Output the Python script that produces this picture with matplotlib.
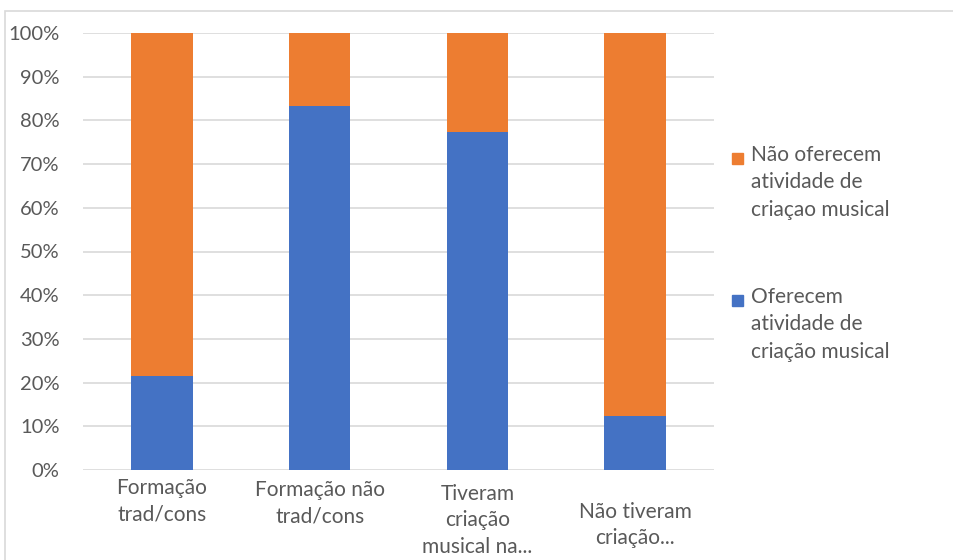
import matplotlib.pyplot as plt
import matplotlib.transforms as mtransforms
from matplotlib.patches import Rectangle
from matplotlib.ticker import MultipleLocator, PercentFormatter

categorias = [["Formação", "trad/cons"],
              ["Formação não", "trad/cons"],
              ["Tiveram", "criação", "musical na..."],
              ["Não tiveram", "criação..."]]
oferecem = [21.5, 83.3, 77.3, 12.4]
nao_oferecem = [100 - v for v in oferecem]

series_legenda = [["Não oferecem", "atividade de", "criaçao musical"],
                  ["Oferecem", "atividade de", "criação musical"]]

azul = "#4472C4"
laranja = "#ED7D31"
cinza = "#595959"
W, H = 954, 560

plt.rcParams["font.family"] = ["Lato", "DejaVu Sans"]

fig = plt.figure(figsize=(W / 100, H / 100), dpi=100)
# moldura do gráfico
fig.patches.append(Rectangle((5 / W, -0.05), 1.0, 1 - 11 / H + 0.05,
                             transform=fig.transFigure, fill=False,
                             edgecolor="#D9D9D9", linewidth=1.2))

ax = fig.add_axes([83 / W, 90 / H, 631 / W, 437 / H])
x = range(len(categorias))
ax.bar(x, oferecem, width=0.39, color=azul, zorder=3)
ax.bar(x, nao_oferecem, width=0.39, bottom=oferecem, color=laranja, zorder=3)

ax.set_xlim(-0.5, 3.5)
ax.set_ylim(0, 100)
ax.yaxis.set_major_locator(MultipleLocator(10))
ax.yaxis.set_major_formatter(PercentFormatter(decimals=0))
ax.grid(axis="y", color="#D9D9D9", linewidth=1.2, zorder=0)
for s in ax.spines.values():
    s.set_visible(False)
ax.tick_params(length=0, colors=cinza, labelsize=14.5)
ax.tick_params(axis="y", pad=17)
ax.set_xticks([])

# rótulos das categorias, linha a linha (baseline em pixels a partir do topo)
trans = mtransforms.blended_transform_factory(ax.transData, fig.transFigure)
primeira_linha = [494, 496, 500, 518]
for i, linhas in enumerate(categorias):
    for j, linha in enumerate(linhas):
        y = primeira_linha[i] + 26.5 * j
        ax.text(i, 1 - y / H, linha, transform=trans, ha="center",
                va="baseline", fontsize=15, color=cinza)

# legenda
cores = [laranja, azul]
base_legenda = [161, 303]
for cor, linhas, y0 in zip(cores, series_legenda, base_legenda):
    fig.patches.append(Rectangle((732 / W, 1 - (y0 + 3) / H), 11 / W, 11 / H,
                                 transform=fig.transFigure, color=cor))
    for j, linha in enumerate(linhas):
        fig.text(751 / W, 1 - (y0 + 27.5 * j) / H, linha, va="baseline",
                 ha="left", fontsize=15, color=cinza)

fig.savefig("out.png", dpi=100)
